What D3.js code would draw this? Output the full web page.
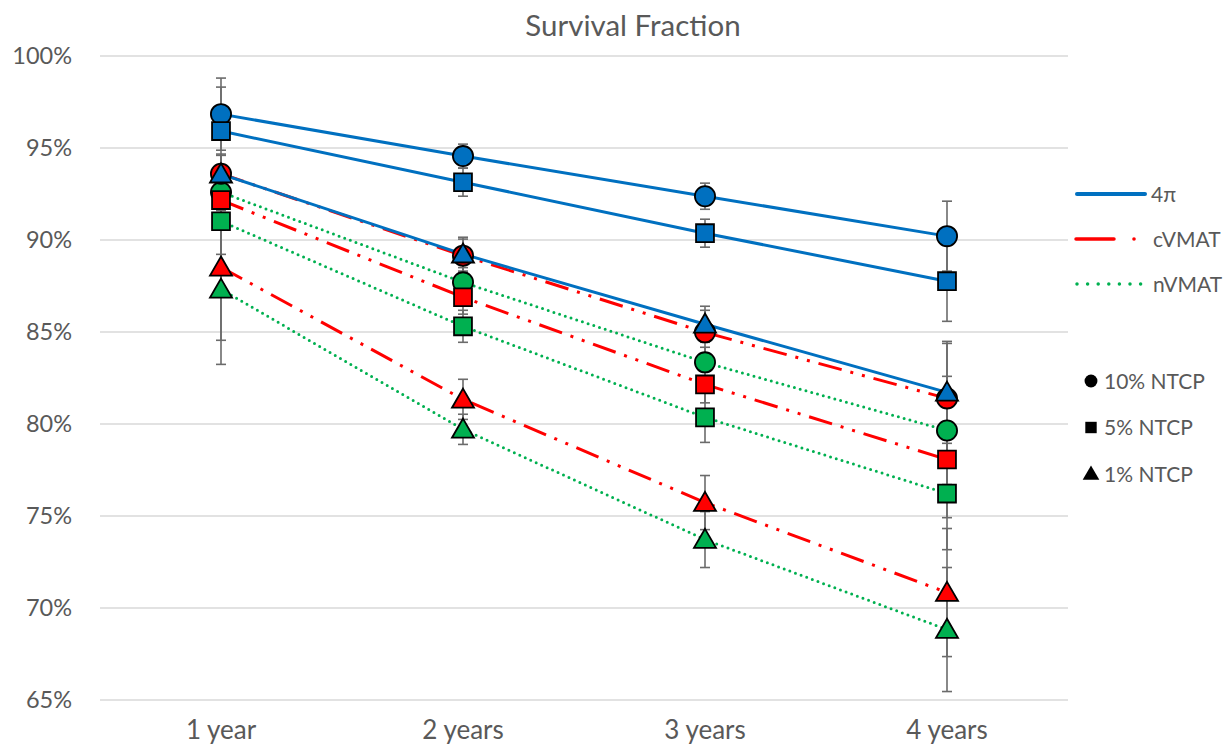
<!DOCTYPE html>
<html>
<head>
<meta charset="utf-8">
<script src="https://cdn.jsdelivr.net/npm/d3@7"></script>
<style>
  body { margin: 0; background: #fff; }
  svg { font-family: Lato, "Open Sans", sans-serif; }
</style>
</head>
<body>
<div id="chart"></div>
<script>
// Categories and tick labels
const years = ["1 year", "2 years", "3 years", "4 years"];
const yTicks = [0.65, 0.70, 0.75, 0.80, 0.85, 0.90, 0.95, 1.00];

// Values (%), order: 1, 2, 3, 4 years
const pi10 = [96.84, 94.56, 92.38, 90.21];
const pi5  = [95.92, 93.14, 90.37, 87.76];
const pi1  = [93.58, 89.23, 85.42, 81.72];
const cv10 = [93.60, 89.15, 84.98, 81.39];
const cv5  = [92.17, 86.89, 82.15, 78.07];
const cv1  = [88.52, 81.34, 75.73, 70.84];
const nv10 = [92.60, 87.70, 83.35, 79.65];
const nv5  = [91.02, 85.31, 80.36, 76.22];
const nv1  = [87.32, 79.71, 73.72, 68.83];

// Error bar half widths (%)
const pi10Err = [1.96, 0.65, 0.71, 1.90];
const pi5Err  = [2.39, 0.76, 0.76, 2.18];
const pi1Err  = [1.09, 0.92, 0.98, 2.77];
const cv10Err = [1.00, 0.90, 1.20, 2.99];
const cv5Err  = [1.00, 0.92, 1.00, 3.16];
const cv1Err  = [3.97, 1.09, 1.47, 3.48];
const nv10Err = [1.00, 0.80, 0.82, 2.94];
const nv5Err  = [1.80, 0.87, 1.36, 3.05];
const nv1Err  = [4.08, 0.82, 1.52, 3.37];

const methods = ["4π", "cVMAT", "nVMAT"];
const ntcpLabels = ["10% NTCP", "5% NTCP", "1% NTCP"];

// series in drawing order (nVMAT, cVMAT, 4π)
const series = [
  { method: "nVMAT", shape: "circle",   values: nv10, err: nv10Err },
  { method: "nVMAT", shape: "square",   values: nv5,  err: nv5Err },
  { method: "nVMAT", shape: "triangle", values: nv1,  err: nv1Err },
  { method: "cVMAT", shape: "circle",   values: cv10, err: cv10Err },
  { method: "cVMAT", shape: "square",   values: cv5,  err: cv5Err },
  { method: "cVMAT", shape: "triangle", values: cv1,  err: cv1Err },
  { method: "4π",    shape: "circle",   values: pi10, err: pi10Err },
  { method: "4π",    shape: "square",   values: pi5,  err: pi5Err },
  { method: "4π",    shape: "triangle", values: pi1,  err: pi1Err }
];

const color = d3.scaleOrdinal().domain(methods).range(["#0070C0", "#FF0000", "#00B050"]);
const dash  = d3.scaleOrdinal().domain(methods).range(["none", "24,9,3,9,3,9", "0,6"]);
const cap   = d3.scaleOrdinal().domain(methods).range(["round", "butt", "round"]);

const width = 1225, height = 748;
const plot = { left: 100, right: 1068, top: 56, bottom: 700 };

const svg = d3.select("#chart").append("svg")
  .attr("width", width)
  .attr("height", height);

const x = d3.scaleBand().domain(years).range([plot.left, plot.right]);
const y = d3.scaleLinear().domain([0.65, 1.0]).range([plot.bottom, plot.top]);
const cx = d => x(d) + x.bandwidth() / 2;

// Title
svg.append("text")
  .attr("x", 633).attr("y", 36)
  .attr("text-anchor", "middle")
  .attr("fill", "#595959")
  .attr("font-size", 29.5)
  .text("Survival Fraction");

// Gridlines
svg.append("g")
  .selectAll("line")
  .data(yTicks)
  .join("line")
  .attr("x1", plot.left).attr("x2", plot.right)
  .attr("y1", d => y(d)).attr("y2", d => y(d))
  .attr("stroke", "#d9d9d9").attr("stroke-width", 1.3);

// Y axis
const yAxis = svg.append("g")
  .attr("transform", `translate(${plot.left}, 0)`)
  .call(d3.axisLeft(y).tickValues(yTicks).tickFormat(d3.format(".0%")).tickSize(0).tickPadding(28));
yAxis.select(".domain").remove();
yAxis.selectAll("text").attr("fill", "#595959").attr("font-size", 23.5).attr("font-family", "Lato, sans-serif");

// X axis
const xAxis = svg.append("g")
  .attr("transform", `translate(0, ${plot.bottom})`)
  .call(d3.axisBottom(x).tickSize(0).tickPadding(21));
xAxis.select(".domain").remove();
xAxis.selectAll("text").attr("fill", "#595959").attr("font-size", 26).attr("font-family", "Lato, sans-serif");

// Error bars
const errG = svg.append("g");
series.forEach(s => {
  years.forEach((yr, i) => {
    const hi = y((s.values[i] + s.err[i]) / 100);
    const lo = y((s.values[i] - s.err[i]) / 100);
    const px = cx(yr);
    errG.append("line")
      .attr("x1", px).attr("x2", px).attr("y1", hi).attr("y2", lo)
      .attr("stroke", "#6b6b6b").attr("stroke-width", 1.6);
    [hi, lo].forEach(v => {
      errG.append("line")
        .attr("x1", px - 5).attr("x2", px + 5).attr("y1", v).attr("y2", v)
        .attr("stroke", "#6b6b6b").attr("stroke-width", 1.6);
    });
  });
});

// Lines
const line = d3.line()
  .x((d, i) => cx(years[i]))
  .y(d => y(d / 100));

const lineG = svg.append("g");
series.forEach(s => {
  lineG.append("path")
    .datum(s.values)
    .attr("fill", "none")
    .attr("stroke", color(s.method))
    .attr("stroke-width", 3)
    .attr("stroke-dasharray", dash(s.method))
    .attr("stroke-linecap", cap(s.method))
    .attr("d", line);
});

// Markers
const symbolType = { circle: d3.symbolCircle, square: d3.symbolSquare, triangle: d3.symbolTriangle };
const symbolSize = { circle: 320, square: 320, triangle: 210 };
const markG = svg.append("g");
series.forEach(s => {
  const sym = d3.symbol().type(symbolType[s.shape]).size(symbolSize[s.shape]);
  s.values.forEach((v, i) => {
    markG.append("path")
      .attr("d", sym)
      .attr("transform", `translate(${cx(years[i])}, ${y(v / 100) + (s.shape === "triangle" ? 2 : 0)})`)
      .attr("fill", color(s.method))
      .attr("stroke", "#000")
      .attr("stroke-width", 1.8);
  });
});

// Legend: methods
const legend = svg.append("g");
methods.forEach((m, i) => {
  const ly = 194 + i * 45;
  if (m === "cVMAT") {
    legend.append("line")
      .attr("x1", 1076).attr("x2", 1114).attr("y1", ly).attr("y2", ly)
      .attr("stroke", color(m)).attr("stroke-width", 3.5).attr("stroke-linecap", "round");
    legend.append("circle")
      .attr("cx", 1134).attr("cy", ly).attr("r", 1.8).attr("fill", color(m));
  } else {
    legend.append("line")
      .attr("x1", 1077).attr("x2", 1145).attr("y1", ly).attr("y2", ly)
      .attr("stroke", color(m)).attr("stroke-width", m === "4π" ? 4 : 3.5)
      .attr("stroke-dasharray", m === "4π" ? "none" : "0,10.6")
      .attr("stroke-linecap", "round");
  }
  legend.append("text")
    .attr("x", m === "4π" ? 1151 : 1153).attr("y", ly + 7.5)
    .attr("fill", "#595959").attr("font-size", 21)
    .text(m);
});

// Legend: NTCP shapes
["circle", "square", "triangle"].forEach((sh, i) => {
  const ly = 381 + i * 46.5;
  legend.append("path")
    .attr("d", d3.symbol().type(symbolType[sh]).size(sh === "triangle" ? 120 : 130))
    .attr("transform", `translate(1091, ${ly + (sh === "triangle" ? 1 : 0)})`)
    .attr("fill", "#000");
  legend.append("text")
    .attr("x", 1104).attr("y", ly + 7.5)
    .attr("fill", "#595959").attr("font-size", 21)
    .text(ntcpLabels[i]);
});
</script>
</body>
</html>
